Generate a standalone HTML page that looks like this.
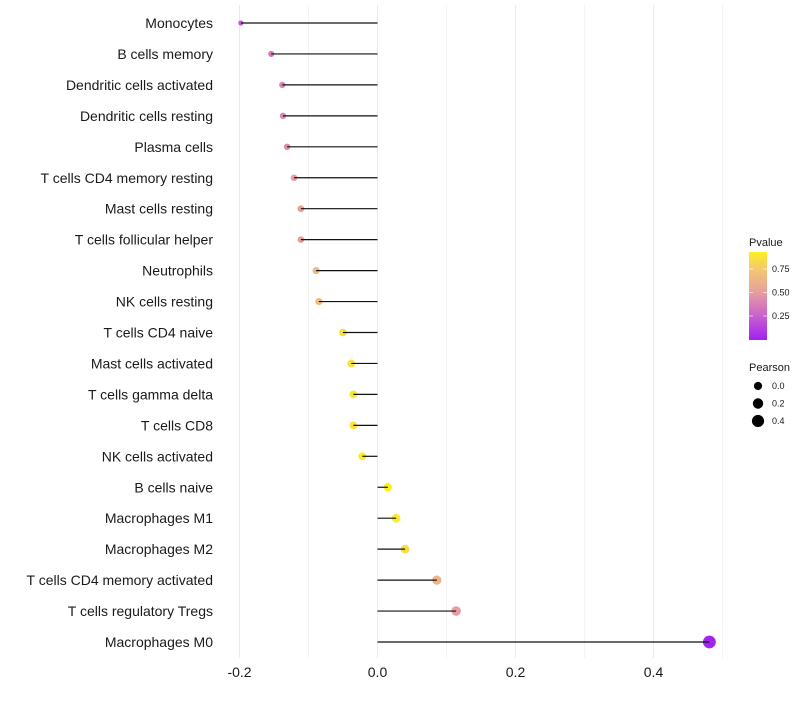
<!DOCTYPE html>
<html><head><meta charset="utf-8"><style>
body{margin:0;background:#fff;font-family:"Liberation Sans",sans-serif}
</style></head><body>
<svg id="chart" width="800" height="700" xmlns="http://www.w3.org/2000/svg"></svg>
<script>
const categories=["Monocytes","B cells memory","Dendritic cells activated","Dendritic cells resting","Plasma cells","T cells CD4 memory resting","Mast cells resting","T cells follicular helper","Neutrophils","NK cells resting","T cells CD4 naive","Mast cells activated","T cells gamma delta","T cells CD8","NK cells activated","B cells naive","Macrophages M1","Macrophages M2","T cells CD4 memory activated","T cells regulatory  Tregs","Macrophages M0"];
const pearson=[-0.198,-0.154,-0.138,-0.137,-0.131,-0.121,-0.111,-0.111,-0.089,-0.085,-0.050,-0.038,-0.035,-0.035,-0.022,0.015,0.027,0.040,0.086,0.114,0.481];
const pvalues=[0.25,0.35,0.40,0.41,0.42,0.50,0.52,0.52,0.65,0.68,0.85,0.87,0.88,0.88,0.92,0.93,0.90,0.85,0.62,0.50,0.02];
const xTicks=[-0.2,0.0,0.2,0.4];
const xTickLabels=["-0.2","0.0","0.2","0.4"];
const legendP=[0.25,0.50,0.75];
const legendSizes=[0.0,0.2,0.4];

const NS="http://www.w3.org/2000/svg";
const svg=document.getElementById('chart');
const x=v=>377.5+v*690;
const y=i=>23+i*30.95;
const r=v=>Math.sqrt(Math.max(1.5,17+50*v));
const stops=[[0,[160,32,240]],[0.25,[200,96,208]],[0.5,[230,158,160]],[0.75,[244,200,112]],[1,[255,255,0]]];
function col(p){for(let k=1;k<stops.length;k++){if(p<=stops[k][0]){const a=stops[k-1],b=stops[k],t=(p-a[0])/(b[0]-a[0]);return 'rgb('+a[1].map((c,j)=>Math.round(c+(b[1][j]-c)*t)).join(',')+')';}}return 'rgb(255,255,0)';}
function el(t,a,txt){const e=document.createElementNS(NS,t);for(const k in a)e.setAttribute(k,a[k]);if(txt!==undefined)e.textContent=txt;svg.appendChild(e);return e;}
// grid
for(let v=-0.2;v<=0.5;v+=0.1){const g=el('line',{x1:x(v),x2:x(v),y1:5,y2:658,stroke:'#ebebeb','stroke-width':Math.abs(Math.round(v*10))%2==0?1:0.6});

}
categories.forEach((c,i)=>{
const t=el('text',{x:213,y:y(i)+5,'text-anchor':'end','font-size':14,fill:'#1a1a1a'},c);


const p=el('circle',{cx:x(pearson[i]),cy:y(i),r:r(pearson[i]),fill:col(pvalues[i])});


const l=el('line',{x1:x(0),x2:x(pearson[i]),y1:y(i),y2:y(i),stroke:'#111','stroke-width':1.2});


});
xTicks.forEach((v,i)=>{const t=el('text',{x:x(v),y:677,'text-anchor':'middle','font-size':14,fill:'#1a1a1a'},xTickLabels[i]);

});
// legend pvalue
const lt=el('text',{x:749,y:246,'font-size':11,fill:'#1a1a1a'},'Pvalue');


const defs=el('defs',{});
const lg=document.createElementNS(NS,'linearGradient');lg.setAttribute('id','pg');lg.setAttribute('x1','0');lg.setAttribute('y1','1');lg.setAttribute('x2','0');lg.setAttribute('y2','0');
for(let k=0;k<=10;k++){const s=document.createElementNS(NS,'stop');s.setAttribute('offset',k/10);s.setAttribute('stop-color',col(k/10*0.93));lg.appendChild(s);}
defs.appendChild(lg);
const bar=el('rect',{x:749,y:252,width:18,height:88,fill:'url(#pg)'});


legendP.forEach(v=>{const yy=339.5-v*94;
el('line',{x1:749,x2:753,y1:yy,y2:yy,stroke:'#fff','stroke-width':0.6});el('line',{x1:763,x2:767,y1:yy,y2:yy,stroke:'#fff','stroke-width':0.6});
const t=el('text',{x:772,y:yy+3,'font-size':9,fill:'#1a1a1a'},v.toFixed(2));

});
const st=el('text',{x:749,y:371,'font-size':11,fill:'#1a1a1a'},'Pearson');


legendSizes.forEach((v,i)=>{const yy=386+i*17.5;
const c=el('circle',{cx:758,cy:yy,r:r(v),fill:'#000'});


const t=el('text',{x:772,y:yy+3,'font-size':9,fill:'#1a1a1a'},v.toFixed(1));

});
</script>
</body></html>
